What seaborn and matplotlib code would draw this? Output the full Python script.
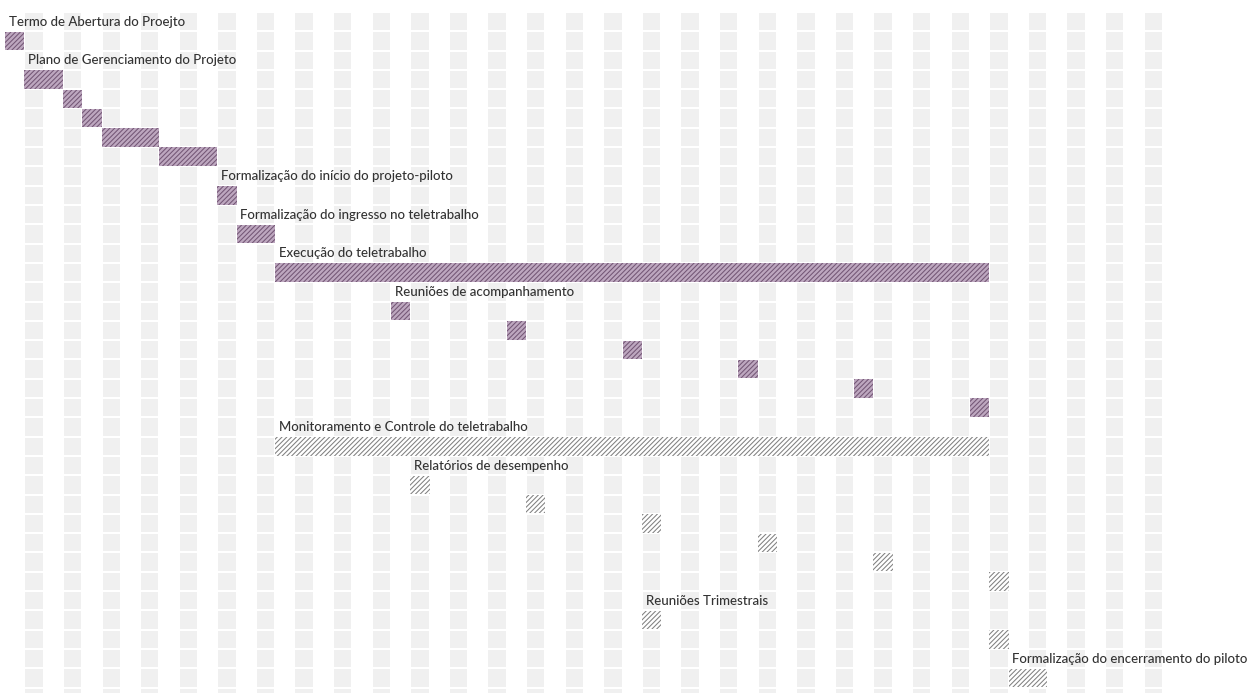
import numpy as np
import matplotlib
matplotlib.use("Agg")
import matplotlib.pyplot as plt
from matplotlib.colors import ListedColormap
import seaborn as sns

# ---- data ----
labels = ["Termo de Abertura do Proejto", "Plano de Gerenciamento do Projeto", "", "", "", "",
          "Formalização do início do projeto-piloto", "Formalização do ingresso no teletrabalho",
          "Execução do teletrabalho", "Reuniões de acompanhamento", "", "", "", "", "",
          "Monitoramento e Controle do teletrabalho", "Relatórios de desempenho", "", "", "", "", "",
          "Reuniões Trimestrais", "", "Formalização do encerramento do piloto"]
starts = [0, 1, 3, 4, 5, 8, 11, 12, 14, 20, 26, 32, 38, 44, 50,
          14, 21, 27, 33, 39, 45, 51, 33, 51, 52]
durations = [1, 2, 1, 1, 3, 3, 1, 2, 37, 1, 1, 1, 1, 1, 1,
             37, 1, 1, 1, 1, 1, 1, 1, 1, 2]
rows = [1, 3, 4, 5, 6, 7, 9, 11, 13, 15, 16, 17, 18, 19, 20,
        22, 24, 25, 26, 27, 28, 29, 31, 32, 34]
kinds = ["main"] * 15 + ["light"] * 10

n_cols = 60
n_rows = 36

sns.set_theme(style="white")
plt.rcParams['font.family'] = ['Lato', 'DejaVu Sans']
plt.rcParams['hatch.linewidth'] = 0.75

fig = plt.figure(figsize=(12.49, 6.93), dpi=100)
ax = fig.add_axes([0, 0, 1, 1])

grid = np.tile((np.arange(n_cols) % 2).astype(float), (n_rows, 1))
sns.heatmap(grid, ax=ax, cmap=ListedColormap(["#ffffff", "#f0f0f0"]), cbar=False,
            linewidths=1.2, linecolor="white", vmin=0, vmax=1)

for s, d, r, k, lab in zip(starts, durations, rows, kinds, labels):
    if k == "main":
        fc, hc = "#bda7bf", "#735675"
    else:
        fc, hc = "#ffffff", "#808080"
    ax.barh(r + 0.5, d, left=s, height=0.96, facecolor=fc, edgecolor=hc,
            hatch="///////", linewidth=0)
    if lab:
        ax.text(s + 0.2, r - 0.5, lab, fontsize=9.5, color="#333333", va="center",
                ha="left", fontweight="medium")

ax.set_xlim(-0.26, 64.46)
ax.set_ylim(35.28, -0.62)
ax.set_xticks([])
ax.set_yticks([])
ax.set_xlabel("")
ax.set_ylabel("")
for sp in ax.spines.values():
    sp.set_visible(False)

fig.savefig("out.png", dpi=100)
